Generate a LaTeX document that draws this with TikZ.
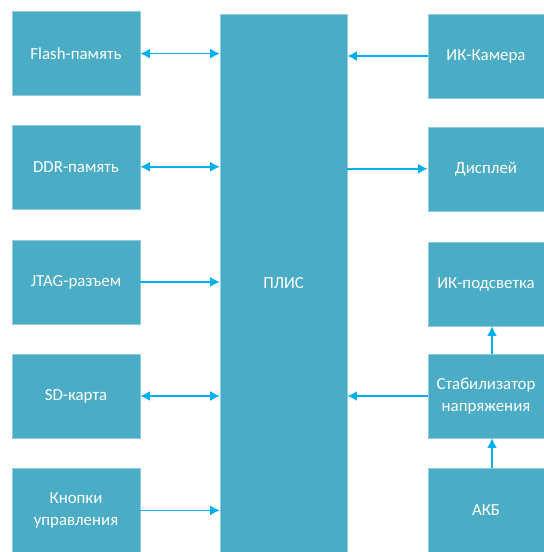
\documentclass[tikz,border=0pt]{standalone}
\usepackage{fontspec}
\setmainfont{Carlito}
\usetikzlibrary{arrows.meta}
\definecolor{C1}{RGB}{75, 172, 198}
\definecolor{CA}{RGB}{0, 176, 240}

\begin{document}
\begin{tikzpicture}[
        blk/.style={fill=C1, draw=C1!60!white, line width=0.4pt, text=white,
            align=center, inner sep=0pt, font=\fontsize{12}{15.6}\selectfont},
        lblk/.style={blk, minimum width=3.20cm, minimum height=2.10cm},
        rblk/.style={blk, minimum width=2.90cm, minimum height=2.10cm},
        link/.style={CA, line width=1.2pt, -{Latex[length=0.24cm, width=0.25cm]}},
        both/.style={link, {Latex[length=0.24cm, width=0.25cm]}-{Latex[length=0.24cm, width=0.25cm]}}]
        \useasboundingbox (0,0) rectangle (13.60, 13.80);
        % ПЛИС
        \node[blk, minimum width=3.175cm, minimum height=13.45cm] (plis) at (7.09, 6.725) {ПЛИС};
        % left column
        \node[lblk] (flash) at (1.90, 12.46) {Flash-память};
        \node[lblk] (ddr)   at (1.90, 9.63)  {DDR-память};
        \node[lblk] (jtag)  at (1.90, 6.75)  {JTAG-разъем};
        \node[lblk] (sd)    at (1.90, 3.90)  {SD-карта};
        \node[lblk] (keys)  at (1.90, 1.04)  {Кнопки\\управления};
        % right column
        \node[rblk] (cam)   at (12.15, 12.40) {ИК-Камера};
        \node[rblk] (disp)  at (12.15, 9.58)  {Дисплей};
        \node[rblk] (irled) at (12.15, 6.70)  {ИК-подсветка};
        \node[rblk] (stab)  at (12.15, 3.90)  {Стабилизатор\\напряжения};
        \node[rblk] (akb)   at (12.15, 1.04)  {АКБ};
        % links
        \draw[both] (flash.east) -- (flash.east -| plis.west);
        \draw[both] (ddr.east)   -- (ddr.east -| plis.west);
        \draw[link] (jtag.east)  -- (jtag.east -| plis.west);
        \draw[both] (sd.east)    -- (sd.east -| plis.west);
        \draw[link] (keys.east)  -- (keys.east -| plis.west);
        \draw[link] (cam.west)   -- (cam.west -| plis.east);
        \draw[link] (disp.west -| plis.east) -- (disp.west);
        \draw[link] (stab.west)  -- (stab.west -| plis.east);
        \draw[link] ([xshift=0.15cm]akb.north)  -- ([xshift=0.15cm]stab.south);
        \draw[link] ([xshift=0.15cm]stab.north) -- ([xshift=0.15cm]irled.south);
    \end{tikzpicture}
\end{document}
